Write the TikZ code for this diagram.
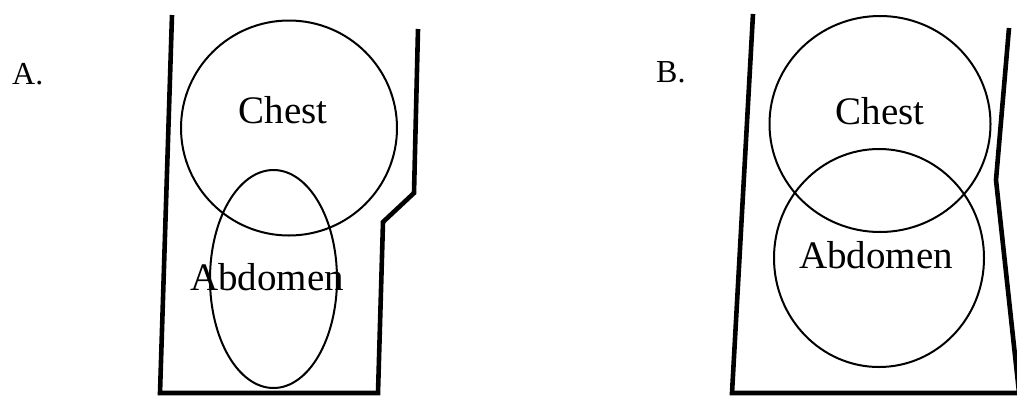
\documentclass[tikz,border=0pt]{standalone}
\usepackage{fontspec}
\setmainfont{Liberation Serif}
\usetikzlibrary{positioning}

\begin{document}
\begin{tikzpicture}[x=1pt, y=-1pt,
        wall/.style={line width=4.6pt, line join=miter},
        organ/.style={line width=2pt},
        lbl/.style={font=\fontsize{39}{43}\selectfont, inner sep=0pt, anchor=base},
        tag/.style={font=\fontsize{32}{36}\selectfont, inner sep=0pt, anchor=base west}]
    \useasboundingbox (0,0) rectangle (1017,397);
    \clip (0,0) rectangle (1017,397);
    % panel A
    \node[tag] (tagA) at (12,84) {A.};
    \coordinate (aTL) at (172,15);
    \coordinate (aBL) at (160,393);
    \coordinate (aBR) at (378,393);
    \coordinate (aStep) at (383,222);
    \coordinate (aKnee) at (414,193);
    \coordinate (aTR) at (418,29);
    \draw[wall] (aTL) -- (aBL) -- (aBR) -- (aStep) -- (aKnee) -- (aTR);
    \draw[organ] (289,128) ellipse [x radius=108, y radius=107.5];
    \draw[organ] (273.5,279) ellipse [x radius=63.5, y radius=109];
    \node[lbl] (chestA) at (283,123) {Chest};
    \node[lbl] (abdA) at (267,290) {Abdomen};
    % panel B
    \node[tag] (tagB) at (656,82) {B.};
    \coordinate (bTL) at (753,14);
    \coordinate (bBL) at (732,393);
    \coordinate (bBR) at (1030,393);
    \coordinate (bTR) at (1009,28);
    \coordinate (bKnee) at (996,180);
    \coordinate (bFoot) at (1022,420);
    \draw[wall] (bTL) -- (bBL) -- (bBR);
    \draw[wall] (bTR) -- (bKnee) -- (bFoot);
    \draw[organ] (880,124) ellipse [x radius=110.5, y radius=108];
    \draw[organ] (879,258) ellipse [x radius=105, y radius=109];
    \node[lbl] (chestB) at (880,124) {Chest};
    \node[lbl] (abdB) at (876,268) {Abdomen};
\end{tikzpicture}
\end{document}
